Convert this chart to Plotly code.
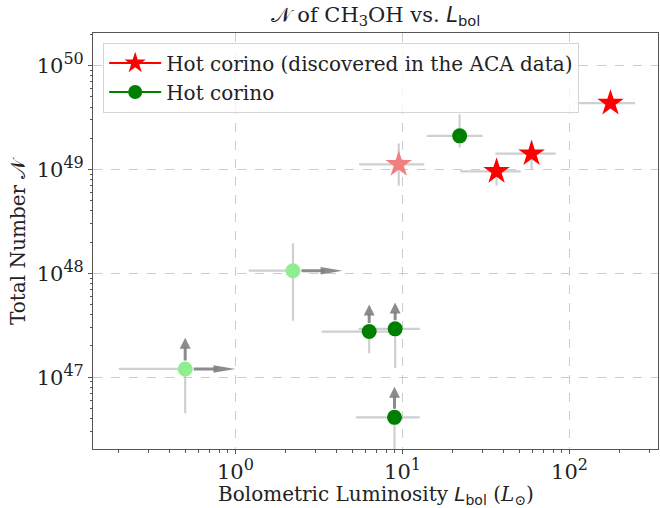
import numpy as np
import plotly.graph_objects as go

# hot corinos discovered in the ACA data
aca_L = [176, 59.3, 36.6, 9.5]
aca_L_lo = [108, 36.0, 22.2, 5.5]
aca_L_hi = [247, 82.8, 51.0, 13.5]
aca_N = [4.36e49, 1.42e49, 9.6e48, 1.12e49]
aca_N_lo = [3.9e49, 1.0e49, 7.0e48, 7.0e48]
aca_N_hi = [4.8e49, 1.9e49, 1.2e49, 1.78e49]
aca_col = ["red", "red", "red", "lightcoral"]

# other hot corinos (None = no limit arrow)
hc_L = [22.0, 2.21, 6.32, 9.04, 0.50, 8.96]
hc_L_lo = [14.0, 1.2, 3.28, 5.46, 0.20, 5.26]
hc_L_hi = [30.2, 2.21, 8.5, 12.7, 0.50, 12.7]
hc_L_lim = [None, 4.38, None, None, 1.0, None]
hc_N = [2.11e49, 1.06e48, 2.75e47, 2.92e47, 1.2e47, 4.1e46]
hc_N_lo = [1.63e49, 3.5e47, 1.7e47, 1.22e47, 4.5e46, 1.0e46]
hc_N_hi = [3.4e49, 1.95e48, 2.75e47, 2.92e47, 1.2e47, 4.1e46]
hc_N_lim = [None, None, 5.0e47, 5.25e47, 2.4e47, 8.1e46]
hc_col = ["green", "lightgreen", "green", "green", "lightgreen", "green"]

font = "DejaVu Serif"
sans = "DejaVu Sans"
errcol = "rgba(195,195,195,0.8)"
arrcol = "rgba(128,128,128,0.9)"

def err(v, lo, hi):
    v, lo, hi = np.array(v), np.array(lo), np.array(hi)
    return dict(type="data", symmetric=False, array=hi - v, arrayminus=v - lo,
                color=errcol, thickness=2.2, width=0)

def sup(s):
    return "10<sup><span style='font-size:16px'>%s</span></sup>" % s

lbol = "<span style='font-family:%s'><i>L</i><sub>bol</sub></span>" % sans

fig = go.Figure()

fig.add_trace(go.Scatter(x=hc_L, y=hc_N, mode="markers", showlegend=False,
                         marker=dict(symbol="circle", size=15, color=hc_col),
                         error_x=err(hc_L, hc_L_lo, hc_L_hi),
                         error_y=err(hc_N, hc_N_lo, hc_N_hi)))
fig.add_trace(go.Scatter(x=aca_L, y=aca_N, mode="markers", showlegend=False,
                         marker=dict(symbol="star", size=20, color=aca_col),
                         error_x=err(aca_L, aca_L_lo, aca_L_hi),
                         error_y=err(aca_N, aca_N_lo, aca_N_hi)))

# legend entries
fig.add_trace(go.Scatter(x=[None], y=[None], mode="lines+markers",
                         name="Hot corino (discovered in the ACA data)",
                         line=dict(color="red", width=2),
                         marker=dict(symbol="star", size=18, color="red")))
fig.add_trace(go.Scatter(x=[None], y=[None], mode="lines+markers", name="Hot corino",
                         line=dict(color="green", width=2),
                         marker=dict(symbol="circle", size=14, color="green")))

# limit arrows: shaft as annotation, head as pixel-sized shape at the tip
for L, N, xl, yl in zip(hc_L, hc_N, hc_L_lim, hc_N_lim):
    if xl:
        fig.add_annotation(x=np.log10(xl), y=np.log10(N), ax=np.log10(L), ay=np.log10(N),
                           xref="x", yref="y", axref="x", ayref="y", text="",
                           showarrow=True, arrowhead=0, arrowwidth=3, arrowcolor=arrcol,
                           startstandoff=7, standoff=18)
        fig.add_shape(type="path", xref="x", yref="y", xsizemode="pixel", ysizemode="pixel",
                      xanchor=xl, yanchor=N, path="M0,0 L-22,3.8 L-22,-3.8 Z",
                      fillcolor=arrcol, line=dict(width=0), layer="above")
    if yl:
        fig.add_annotation(x=np.log10(L), y=np.log10(yl), ax=np.log10(L), ay=np.log10(N),
                           xref="x", yref="y", axref="x", ayref="y", text="",
                           showarrow=True, arrowhead=0, arrowwidth=3, arrowcolor=arrcol,
                           startstandoff=7, standoff=9)
        fig.add_shape(type="path", xref="x", yref="y", xsizemode="pixel", ysizemode="pixel",
                      xanchor=L, yanchor=yl, path="M0,0 L-5.5,-11 L5.5,-11 Z",
                      fillcolor=arrcol, line=dict(width=0), layer="above")

xmin = [m * 10.0 ** e for e in range(-1, 3) for m in range(2, 10)]
ymin = [m * 10.0 ** e for e in range(46, 51) for m in range(2, 10)]

axis = dict(showline=True, linecolor="#555", linewidth=1, mirror=True,
            ticks="outside", ticklen=4, tickcolor="#555", automargin=False,
            showgrid=True, gridcolor="#cccccc", griddash="dash", gridwidth=1,
            zeroline=False, tickfont=dict(family=font, size=21, color="#222"))

fig.update_layout(
    width=660, height=508,
    paper_bgcolor="white", plot_bgcolor="white",
    margin=dict(l=93, r=2, t=33, b=59),
    font=dict(family=font, color="#222"),
    title=dict(text="𝒩 of CH<sub>3</sub>OH vs. " + lbol,
               xref="paper", x=0.5, xanchor="center", y=0.972, yanchor="middle",
               font=dict(family=font, size=21)),
    xaxis=dict(axis, type="log", range=[-0.853, 2.53],
               tickvals=[1, 10, 100], ticktext=[sup(0), sup(1), sup(2)],
               minor=dict(tickvals=xmin, ticks="outside", ticklen=2.5, tickcolor="#555",
                          showgrid=False)),
    yaxis=dict(axis, type="log", range=[46.308, 50.315],
               tickvals=[1e47, 1e48, 1e49, 1e50],
               ticktext=[sup(47), sup(48), sup(49), sup(50)],
               minor=dict(tickvals=ymin, ticks="outside", ticklen=2.5, tickcolor="#555",
                          showgrid=False)),
    legend=dict(x=0.018, y=0.977, xanchor="left", yanchor="top",
                bgcolor="rgba(255,255,255,0.8)", bordercolor="#d5d5d5", borderwidth=1,
                font=dict(family=font, size=20), itemwidth=52, tracegroupgap=0),
)

fig.add_annotation(text="Bolometric Luminosity " + lbol + " (<i>L</i><sub>⊙</sub>)",
                   xref="paper", yref="paper", x=0.5, y=0, yanchor="middle", yshift=-46,
                   showarrow=False, font=dict(family=font, size=20))
fig.add_annotation(text="Total Number 𝒩", textangle=-90,
                   xref="paper", yref="paper", x=0, y=0.5, xanchor="center", xshift=-75,
                   showarrow=False, font=dict(family=font, size=20))

# page body has a default 8px margin; drop it so the figure fills the window
fig.write_html("out.html", config={"displayModeBar": False},
               post_script="document.body.style.margin='0px';")
